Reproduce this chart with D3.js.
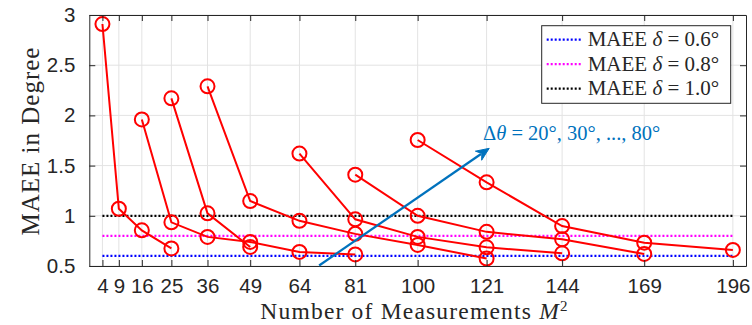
<!DOCTYPE html>
<html>
<head>
<meta charset="utf-8">
<script src="https://cdn.jsdelivr.net/npm/d3@7"></script>
<style>
  body { margin: 0; background: #fff; }
  .tick text { font-family: "Liberation Sans", Arial, sans-serif; }
</style>
</head>
<body>
<div class="chart"></div>
<script>
// tick values
var m2Ticks = [4, 9, 16, 25, 36, 49, 64, 81, 100, 121, 144, 169, 196];
var yTicks = [0.5, 1, 1.5, 2, 2.5, 3];

// one curve per angular spacing (deg)
var deltaTheta = [20, 30, 40, 50, 60, 70, 80];
var m2_20 = [4, 9, 16, 25];
var maee_20 = [2.91, 1.07, 0.855, 0.675];
var m2_30 = [16, 25, 36, 49, 64, 81];
var maee_30 = [1.96, 0.935, 0.79, 0.74, 0.64, 0.615];
var m2_40 = [25, 36, 49];
var maee_40 = [2.17, 1.025, 0.69];
var m2_50 = [36, 49, 64, 81, 100, 121];
var maee_50 = [2.29, 1.147, 0.95, 0.82, 0.71, 0.575];
var m2_60 = [64, 81, 100, 121, 144];
var maee_60 = [1.62, 0.965, 0.79, 0.686, 0.626];
var m2_70 = [81, 100, 121, 144, 169];
var maee_70 = [1.41, 1.0, 0.84, 0.766, 0.62];
var m2_80 = [100, 121, 144, 169, 196];
var maee_80 = [1.755, 1.333, 0.898, 0.732, 0.66];

// reference levels
var deltaLevels = [0.6, 0.8, 1.0];
var deltaLabels = ["0.6", "0.8", "1.0"];
var deltaColors = ["#0000ff", "#ff00ff", "#000000"];

var allM2 = [m2_20, m2_30, m2_40, m2_50, m2_60, m2_70, m2_80];
var allMaee = [maee_20, maee_30, maee_40, maee_50, maee_60, maee_70, maee_80];

var svgWidth = 752, svgHeight = 325;
var margin = { top: 15, right: 6, bottom: 59, left: 89.3 };
var width = svgWidth - margin.left - margin.right;
var height = svgHeight - margin.top - margin.bottom;

var svg = d3.select(".chart").append("svg")
  .attr("width", svgWidth)
  .attr("height", svgHeight);

var chartGroup = svg.append("g")
  .attr("transform", `translate(${margin.left}, ${margin.top})`);

var xScale = d3.scaleLinear().domain([0, 200]).range([0, width]);
var yScale = d3.scaleLinear().domain([0.5, 3]).range([height, 0]);

var axisColor = "#262626";
var serif = "'Liberation Serif', 'Times New Roman', serif";

// grid
chartGroup.append("g").selectAll("line")
  .data(m2Ticks).enter().append("line")
  .attr("x1", d => xScale(d)).attr("x2", d => xScale(d))
  .attr("y1", 0).attr("y2", height)
  .attr("stroke", "#e3e3e3").attr("stroke-width", 1);
chartGroup.append("g").selectAll("line")
  .data(yTicks).enter().append("line")
  .attr("x1", 0).attr("x2", width)
  .attr("y1", d => yScale(d)).attr("y2", d => yScale(d))
  .attr("stroke", "#e3e3e3").attr("stroke-width", 1);

// dotted reference lines
deltaLevels.forEach(function (lvl, i) {
  chartGroup.append("line")
    .attr("x1", xScale(m2Ticks[0])).attr("x2", xScale(m2Ticks[m2Ticks.length - 1]))
    .attr("y1", yScale(lvl)).attr("y2", yScale(lvl))
    .attr("stroke", deltaColors[i])
    .attr("stroke-width", 2.2)
    .attr("stroke-dasharray", "2 2");
});

// curves
var line = d3.line().x(d => xScale(d[0])).y(d => yScale(d[1]));
allM2.forEach(function (xs, i) {
  var pts = xs.map((x, j) => [x, allMaee[i][j]]);
  chartGroup.append("path")
    .datum(pts)
    .attr("d", line)
    .attr("fill", "none")
    .attr("stroke", "#ff0000")
    .attr("stroke-width", 2);
  chartGroup.selectAll(null)
    .data(pts).enter().append("circle")
    .attr("cx", d => xScale(d[0]))
    .attr("cy", d => yScale(d[1]))
    .attr("r", 7)
    .attr("fill", "none")
    .attr("stroke", "#ff0000")
    .attr("stroke-width", 2);
});

// axes (box with inward ticks)
var tickLen = 6;
var bottomAxis = d3.axisBottom(xScale).tickValues(m2Ticks).tickSizeInner(-tickLen).tickSizeOuter(0).tickPadding(12.5);
var leftAxis = d3.axisLeft(yScale).tickValues(yTicks).tickSizeInner(-tickLen).tickSizeOuter(0).tickPadding(14)
  .tickFormat(d3.format("~g"));
var topAxis = d3.axisTop(xScale).tickValues(m2Ticks).tickSizeInner(-tickLen).tickSizeOuter(0).tickFormat("");
var rightAxis = d3.axisRight(yScale).tickValues(yTicks).tickSizeInner(-tickLen).tickSizeOuter(0).tickFormat("");

[
  [bottomAxis, `translate(0, ${height})`],
  [leftAxis, null],
  [topAxis, null],
  [rightAxis, `translate(${width}, 0)`]
].forEach(function (a) {
  var g = chartGroup.append("g").call(a[0]);
  if (a[1]) g.attr("transform", a[1]);
  g.select(".domain").attr("stroke", axisColor);
  g.selectAll(".tick line").attr("stroke", axisColor);
  g.selectAll(".tick text").attr("fill", axisColor).style("font-size", "20.5px");
});

// arrow
var ax0 = xScale(70), ay0 = yScale(0.505), ax1 = xScale(121.8), ay1 = yScale(1.672);
var ang = Math.atan2(ay1 - ay0, ax1 - ax0);
var headL = 13, headW = 5.5;
var bx = ax1 - headL * Math.cos(ang), by = ay1 - headL * Math.sin(ang);
chartGroup.append("line")
  .attr("x1", ax0).attr("y1", ay0).attr("x2", bx + 3 * Math.cos(ang)).attr("y2", by + 3 * Math.sin(ang))
  .attr("stroke", "#0072bd").attr("stroke-width", 2.2);
var nx = -Math.sin(ang), ny = Math.cos(ang);
var notch = 4;
chartGroup.append("path")
  .attr("d", `M${ax1},${ay1} L${bx + nx * headW},${by + ny * headW} L${bx + notch * Math.cos(ang)},${by + notch * Math.sin(ang)} L${bx - nx * headW},${by - ny * headW} Z`)
  .attr("fill", "#0072bd").attr("stroke", "#0072bd").attr("stroke-width", 1);

// annotation text
var ann = svg.append("text")
  .attr("x", 483).attr("y", 140)
  .attr("fill", "#0072bd")
  .style("font-family", serif)
  .style("font-size", "20.5px");
ann.append("tspan").text("\u0394");
ann.append("tspan").style("font-style", "italic").text("\u03b8");
ann.append("tspan").text(" = 20\u00b0, 30\u00b0, ..., 80\u00b0");

// legend
var legend = svg.append("g").attr("transform", "translate(541.7, 25.7)");
legend.append("rect")
  .attr("width", 189).attr("height", 77.6)
  .attr("fill", "#fff").attr("stroke", axisColor).attr("stroke-width", 1);
deltaLevels.forEach(function (lvl, i) {
  var yy = 14 + i * 24.5;
  legend.append("line")
    .attr("x1", 5).attr("x2", 41).attr("y1", yy).attr("y2", yy)
    .attr("stroke", deltaColors[i]).attr("stroke-width", 2.2)
    .attr("stroke-dasharray", "2 2");
  var t = legend.append("text")
    .attr("x", 46).attr("y", yy + 6.5)
    .attr("fill", axisColor)
    .style("font-family", serif)
    .style("font-size", "21px");
  t.append("tspan").text("MAEE ");
  t.append("tspan").style("font-style", "italic").text("\u03b4");
  t.append("tspan").text(" = " + deltaLabels[i] + "\u00b0");
});

// axis labels
var xl = svg.append("text")
  .attr("x", 414.5).attr("y", 318.5)
  .attr("text-anchor", "middle")
  .attr("fill", axisColor)
  .style("font-family", serif)
  .style("font-size", "23.5px")
  .style("letter-spacing", "1.2px");
xl.append("tspan").text("Number of Measurements ");
xl.append("tspan").style("font-style", "italic").text("M");
xl.append("tspan").attr("dy", -8).style("font-size", "15px").text("2");

svg.append("text")
  .attr("transform", "rotate(-90)")
  .attr("x", -141).attr("y", 39)
  .attr("text-anchor", "middle")
  .attr("fill", axisColor)
  .style("font-family", serif)
  .style("font-size", "25px")
  .style("letter-spacing", "1px")
  .text("MAEE in Degree");
</script>
</body>
</html>
